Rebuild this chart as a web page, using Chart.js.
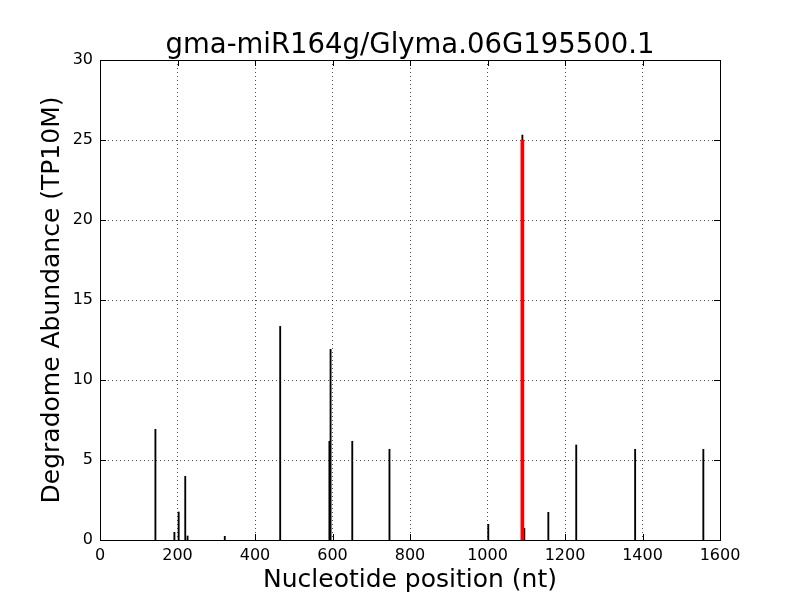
<!DOCTYPE html>
<html>
<head>
<meta charset="utf-8">
<script src="https://cdn.jsdelivr.net/npm/chart.js@4.4.1/dist/chart.umd.min.js"></script>
<style>
html,body{margin:0;padding:0;background:#fff;}
#c{display:block;}
</style>
</head>
<body>
<canvas id="c" width="800" height="600"></canvas>
<script>
const titleText = "gma-miR164g/Glyma.06G195500.1";
const xLabel = "Nucleotide position (nt)";
const yLabel = "Degradome Abundance (TP10M)";
const positions = [143, 192, 203, 220, 226, 322, 465, 592, 595, 651, 747, 1002, 1090, 1095, 1157, 1229, 1381, 1557];
const abundances = [6.92, 0.48, 1.75, 3.98, 0.25, 0.23, 13.35, 6.17, 11.92, 6.17, 5.67, 0.98, 25.3, 0.73, 1.73, 5.94, 5.67, 5.67];
const sitePositions = [1090];
const siteAbundances = [25.0];
const xTicks = [0, 200, 400, 600, 800, 1000, 1200, 1400, 1600];
const yTicks = [0, 5, 10, 15, 20, 25, 30];

const FONT = "'DejaVu Sans', sans-serif";

const frameTicks = {
  id: 'frameTicks',
  afterDatasetsDraw(chart) {
    const {ctx, chartArea: a, scales} = chart;
    ctx.save();
    ctx.strokeStyle = '#000';
    ctx.lineWidth = 1;
    const L = 6;
    ctx.beginPath();
    xTicks.forEach(v => {
      const p = Math.round(scales.x.getPixelForValue(v)) + 0.5;
      ctx.moveTo(p, a.bottom); ctx.lineTo(p, a.bottom - L);
      ctx.moveTo(p, a.top); ctx.lineTo(p, a.top + L);
    });
    yTicks.forEach(v => {
      const p = Math.round(scales.y.getPixelForValue(v)) + 0.5;
      ctx.moveTo(a.left, p); ctx.lineTo(a.left + L, p);
      ctx.moveTo(a.right, p); ctx.lineTo(a.right - L, p);
    });
    ctx.stroke();
    ctx.strokeRect(Math.round(a.left) + 0.5, Math.round(a.top) + 0.5, Math.round(a.right - a.left), Math.round(a.bottom - a.top));
    ctx.restore();
  }
};

new Chart(document.getElementById('c'), {
  type: 'bar',
  data: {
    datasets: [
      {
        label: 'site',
        data: sitePositions.map((x, i) => ({x: x, y: siteAbundances[i]})),
        backgroundColor: '#ff0000',
        borderWidth: 0,
        barThickness: 3,
        grouped: false,
        order: 0
      },
      {
        label: 'reads',
        data: positions.map((x, i) => ({x: x, y: abundances[i]})),
        backgroundColor: '#000000',
        borderWidth: 0,
        barThickness: 1.2,
        grouped: false,
        order: 1
      }
    ]
  },
  options: {
    responsive: false,
    animation: false,
    devicePixelRatio: 1,
    layout: {padding: {left: 20, right: 0, top: 0, bottom: 0}},
    plugins: {
      legend: {display: false},
      tooltip: {enabled: false},
      title: {
        display: true,
        text: titleText,
        color: '#000',
        font: {family: FONT, size: 27.5, weight: 'normal', lineHeight: 1.0},
        padding: {top: 32, bottom: 0.5}
      }
    },
    scales: {
      x: {
        type: 'linear',
        min: 0, max: 1600,
        offset: false,
        afterBuildTicks: s => { s.ticks = xTicks.map(v => ({value: v})); },
        afterFit: s => { s.height = 60; },
        ticks: {color: '#000', font: {family: FONT, size: 16}, padding: 6, maxRotation: 0, callback: v => String(v)},
        grid: {color: '#000', lineWidth: 0.7, drawTicks: false, offset: false},
        border: {display: false, dash: [1, 3]},
        title: {display: true, text: xLabel, color: '#000', font: {family: FONT, size: 25, lineHeight: 1.2}, padding: {top: 0, bottom: 4.5}}
      },
      y: {
        min: 0, max: 30,
        afterBuildTicks: s => { s.ticks = yTicks.map(v => ({value: v})); },
        afterFit: s => { s.width = 80; },
        ticks: {color: '#000', font: {family: FONT, size: 16}, padding: 7, callback: v => String(v)},
        grid: {color: '#000', lineWidth: 0.7, drawTicks: false},
        border: {display: false, dash: [1, 3]},
        title: {display: true, text: yLabel, color: '#000', font: {family: FONT, size: 25, lineHeight: 1.2}, padding: {top: 17.5, bottom: 0}}
      },
      yRight: {
        type: 'linear',
        position: 'right',
        display: true,
        min: 0, max: 30,
        afterFit: s => { s.width = 80; },
        ticks: {display: false},
        grid: {display: false, drawTicks: false},
        border: {display: false},
        title: {display: false}
      }
    }
  },
  plugins: [frameTicks]
});
</script>
</body>
</html>
